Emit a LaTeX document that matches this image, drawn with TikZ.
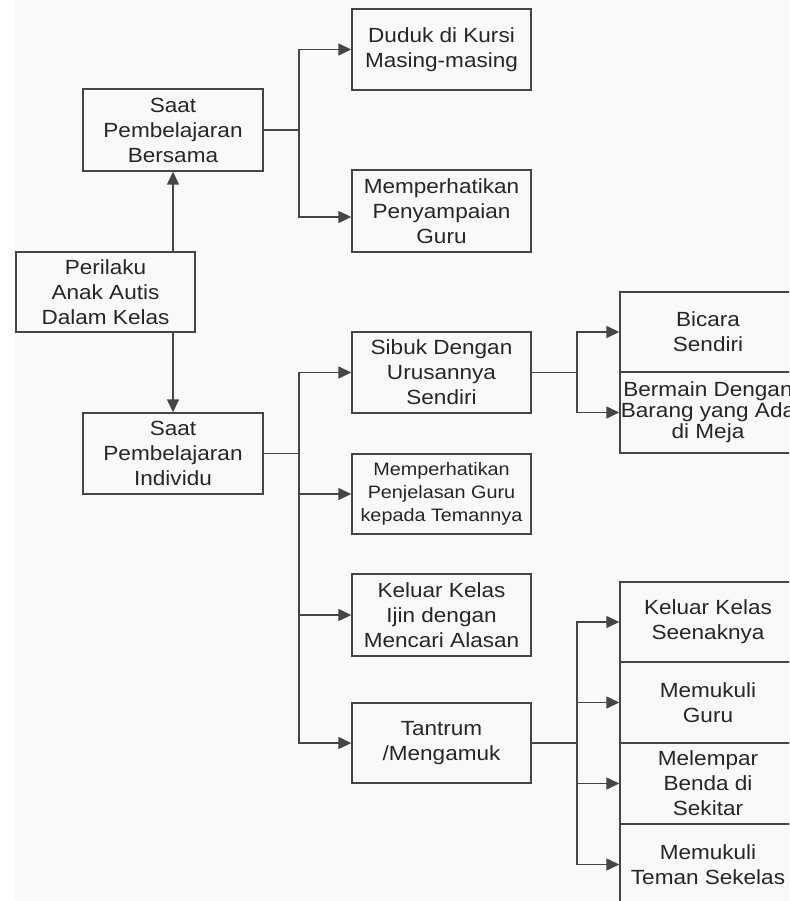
\documentclass[tikz,border=0pt]{standalone}
\usepackage{fontspec}
\setmainfont{Liberation Sans}[FakeStretch=1.1]
\usetikzlibrary{arrows.meta}
\definecolor{linec}{HTML}{454545}
\definecolor{textc}{HTML}{262626}
\definecolor{paper}{HTML}{F9F9F9}
\begin{document}
\begin{tikzpicture}[x=1pt,y=-1pt,
  box/.style={draw=linec, line width=1.4pt, text=textc, align=center,
    inner sep=0pt, minimum width=179pt, minimum height=81pt,
    font=\fontsize{20.5}{25}\selectfont},
  rbox/.style={box, minimum width=176pt},
  link/.style={draw=linec, line width=1.4pt},
  arr/.style={link, -{Triangle[length=13pt 0 0,width=12pt 0 0]}}]
  % page and clipping
  \useasboundingbox (0,0) rectangle (789,901);
  \clip (0,0) rectangle (789,901);
  \fill[white] (0,0) rectangle (789,901);
  \fill[paper] (15,0) rectangle (789,901);

  % root and the two phases
  \node[box, minimum height=80pt] (peril) at (105.5,292) {Perilaku\\Anak Autis\\Dalam Kelas};
  \node[box, minimum width=180pt, minimum height=82pt] (bersama) at (173,130) {Saat\\Pembelajaran\\Bersama};
  \node[box, minimum width=180pt] (indiv) at (173,453.5) {Saat\\Pembelajaran\\Individu};

  % middle column
  \node[box] (duduk) at (441.5,49.5) {Duduk di Kursi\\Masing-masing};
  \node[box, minimum height=82pt] (pgs) at (441.5,211) {Memperhatikan\\Penyampaian\\Guru};
  \node[box] (sibuk) at (441.5,372.5) {Sibuk Dengan\\Urusannya\\Sendiri};
  \node[box, minimum height=80pt, font=\fontsize{18}{22.7}\selectfont] (pjl) at (441.5,494) {Memperhatikan\\Penjelasan Guru\\kepada Temannya};
  \node[box, minimum height=82pt] (ijin) at (441.5,615) {Keluar Kelas\\Ijin dengan\\Mencari Alasan};
  \node[box, minimum height=80pt] (tantrum) at (441.5,743) {Tantrum\\/Mengamuk};

  % right column
  \node[rbox, minimum height=80pt] (bicara) at (708,332) {Bicara\\Sendiri};
  \node[rbox, font=\fontsize{20.5}{21}\selectfont] (bermain) at (708,412.5) {Bermain Dengan\\Barang yang Ada\\di Meja};
  \node[rbox, minimum height=80pt] (seenak) at (708,622) {Keluar Kelas\\Seenaknya};
  \node[rbox] (mguru) at (708,702.5) {Memukuli\\Guru};
  \node[rbox] (melempar) at (708,783.5) {Melempar\\Benda di\\Sekitar};
  \node[rbox] (mteman) at (708,864.5) {Memukuli\\Teman Sekelas};

  % branching points
  \coordinate (j1) at (299,130);
  \coordinate (j2) at (299,453.5);
  \coordinate (j3) at (577,372.5);
  \coordinate (j4) at (577,743);

  % root to phases
  \draw[arr] (bersama.south |- peril.north) -- (bersama.south);
  \draw[arr] (indiv.north |- peril.south) -- (indiv.north);

  % joint learning
  \draw[link] (bersama.east) -- (j1);
  \draw[arr] (j1) |- (duduk.west);
  \draw[arr] (j1) |- ([yshift=-6pt]pgs.west);

  % individual learning
  \draw[link] (indiv.east) -- (j2);
  \draw[arr] (j2) |- (sibuk.west);
  \draw[arr] (j2) |- (pjl.west);
  \draw[arr] (j2) |- (ijin.west);
  \draw[arr] (j2) |- (tantrum.west);

  % busy with own things
  \draw[link] (sibuk.east) -- (j3);
  \draw[arr] (j3) |- (bicara.west);
  \draw[arr] (j3) |- (bermain.west);

  % tantrum
  \draw[link] (tantrum.east) -- (j4);
  \draw[arr] (j4) |- (seenak.west);
  \draw[arr] (j4) |- (mguru.west);
  \draw[arr] (j4) |- (melempar.west);
  \draw[arr] (j4) |- (mteman.west);
\end{tikzpicture}
\end{document}
